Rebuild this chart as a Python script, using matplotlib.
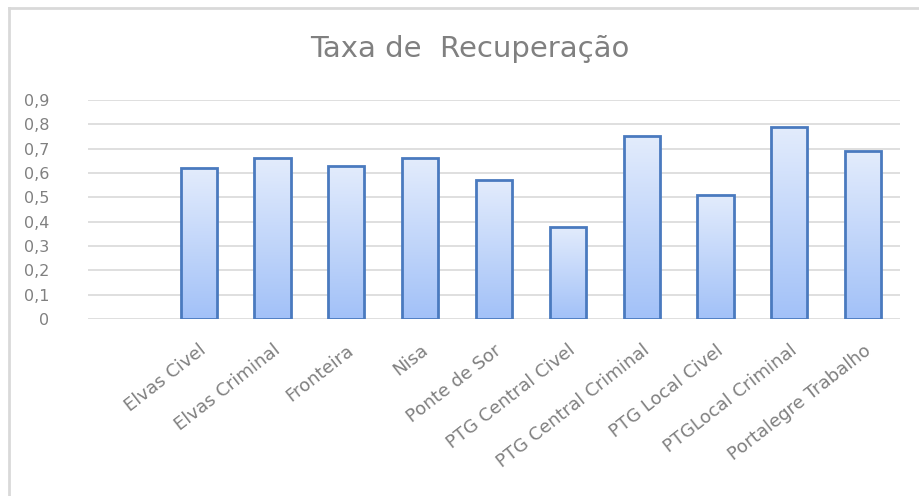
import numpy as np
import matplotlib
matplotlib.use('Agg')
import matplotlib.pyplot as plt
from matplotlib.lines import Line2D

plt.rcParams['font.family'] = ['DejaVu Sans']

# dados (primeira categoria vazia, como no original)
categorias = ['', 'Elvas Civel', 'Elvas Criminal', 'Fronteira', 'Nisa', 'Ponte de Sor',
              'PTG Central Civel', 'PTG Central Criminal', 'PTG Local Civel',
              'PTGLocal Criminal', 'Portalegre Trabalho']
taxas = [np.nan, 0.62, 0.66, 0.63, 0.66, 0.57, 0.38, 0.75, 0.51, 0.79, 0.69]
yticks = [0, 0.1, 0.2, 0.3, 0.4, 0.5, 0.6, 0.7, 0.8, 0.9]

fig = plt.figure(figsize=(9.2, 4.96), dpi=100)
ax = fig.add_axes([88 / 920, 1 - 319 / 496, 812 / 920, 219 / 496])

x = np.arange(len(categorias))
ok = ~np.isnan(taxas)
bars = ax.bar(x[ok], np.array(taxas)[ok], width=0.49, facecolor='none',
              edgecolor='#4a7abf', linewidth=2, zorder=3)

# gradiente claro em cima, azul em baixo
grad = np.linspace(0, 1, 256).reshape(-1, 1)
cmap = matplotlib.colors.LinearSegmentedColormap.from_list('g', ['#a2c1f8', '#e3ecfc'])
for b in bars:
    im = ax.imshow(grad, cmap=cmap, origin='lower', aspect='auto', zorder=2,
                   extent=[b.get_x(), b.get_x() + b.get_width(), 0, b.get_height()])
    im.set_clip_path(b)

ax.set_xlim(-0.5, len(categorias) - 0.5)
ax.set_ylim(0, 0.9)
ax.set_yticks(yticks)
ax.set_yticklabels([('%.1f' % t).replace('.', ',') if t else '0' for t in yticks],
                   fontsize=11.5, color='#808080')
ax.set_xticks(x)
ax.set_xticklabels(categorias, rotation=38, ha='right', rotation_mode='anchor',
                   fontsize=13, color='#808080')
ax.tick_params(axis='both', length=0)
ax.tick_params(axis='y', pad=28)
ax.tick_params(axis='x', pad=16)
ax.grid(axis='y', color='#d9d9d9', linewidth=1.2, zorder=0)
ax.set_axisbelow(True)
for s in ax.spines.values():
    s.set_visible(False)

fig.text(0.511, 1 - 49 / 496, 'Taxa de  Recuperação', ha='center', va='center',
         fontsize=21, color='#808080')

# moldura do gráfico (topo e esquerda)
fig.add_artist(Line2D([9 / 920, 9 / 920], [0, 1 - 8 / 496], color='#d9d9d9', lw=2))
fig.add_artist(Line2D([9 / 920, 1], [1 - 8 / 496, 1 - 8 / 496], color='#d9d9d9', lw=2))

fig.savefig('out.png', dpi=100, facecolor='white')
